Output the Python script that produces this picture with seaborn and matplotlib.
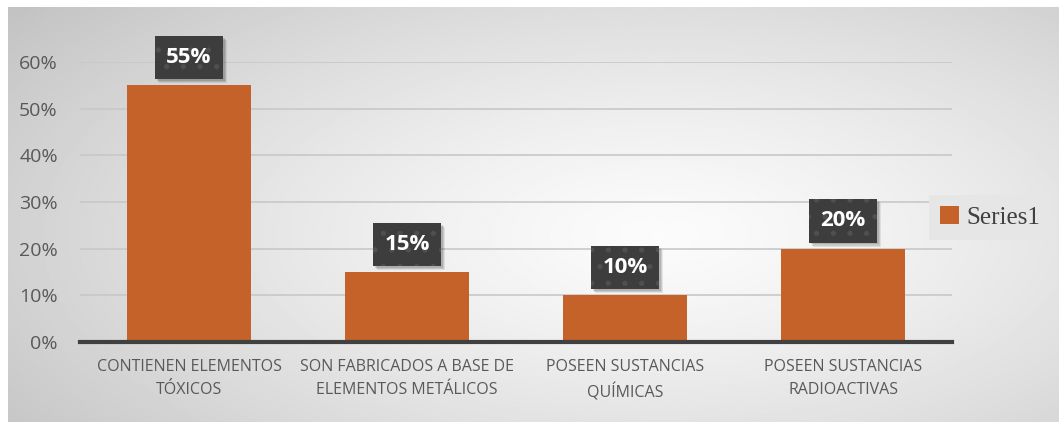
import numpy as np
import matplotlib
matplotlib.use("Agg")
import matplotlib.pyplot as plt
import matplotlib.patheffects as pe
from matplotlib.patches import Patch
from matplotlib.ticker import PercentFormatter
import seaborn as sns

categories = [
    "CONTIENEN ELEMENTOS\nTÓXICOS",
    "SON FABRICADOS A BASE DE\nELEMENTOS METÁLICOS",
    "POSEEN SUSTANCIAS\nQUÍMICAS",
    "POSEEN SUSTANCIAS\nRADIOACTIVAS",
]
values = [0.55, 0.15, 0.10, 0.20]
y_ticks = [0.0, 0.1, 0.2, 0.3, 0.4, 0.5, 0.6]
series_name = "Series1"

BAR = "#C4622A"
TXT = "#595959"


class SoftShadow(pe.AbstractPathEffect):
    """Plain (unhatched) offset shadow drawn beneath a patch."""

    def __init__(self, offset=(2, -2), alpha=0.15):
        super().__init__(offset)
        self._alpha = alpha

    def draw_path(self, renderer, gc, tpath, affine, rgbFace=None):
        gc0 = renderer.new_gc()
        gc0.copy_properties(gc)
        gc0.set_hatch(None)
        gc0.set_linewidth(0)
        gc0.set_foreground((0, 0, 0))
        gc0.set_alpha(self._alpha)
        renderer.draw_path(gc0, tpath, affine + self._offset_transform(renderer),
                           (0, 0, 0))
        gc0.restore()


sns.set_theme(style="white")
plt.rcParams["font.family"] = ["Open Sans", "DejaVu Sans"]
plt.rcParams["hatch.linewidth"] = 1.4

fig = plt.figure(figsize=(10.59, 4.22), dpi=100)

# radial gray backdrop of the chart panel
bg = fig.add_axes([8 / 1059, 0, 1 - 8 / 1059, 1 - 7 / 422], zorder=-10)
yy, xx = np.mgrid[0:1:300j, 0:1:600j]
r = np.sqrt(((xx - 0.62) / 0.75) ** 2 + ((yy - 0.45) / 0.85) ** 2)
shade = np.clip(0.985 - 0.21 * r ** 1.3, 0.76, 1.0)
bg.imshow(shade, cmap="gray", vmin=0, vmax=1, aspect="auto",
          extent=[0, 1, 0, 1], origin="lower")
bg.axis("off")

ax = fig.add_axes([80 / 1059, 1 - 342 / 422, (952 - 80) / 1059, (342 - 62) / 422])
ax.set_facecolor("none")

sns.barplot(x=categories, y=values, color=BAR, width=0.565, saturation=1,
            linewidth=0, ax=ax, zorder=3)

ax.set_ylim(0, 0.6)
ax.set_yticks(y_ticks)
ax.yaxis.set_major_formatter(PercentFormatter(1.0, decimals=0))
ax.grid(axis="y", color="#c8c8c8", linewidth=1.2, zorder=0)
ax.set_axisbelow(True)
for s in ["top", "right", "left"]:
    ax.spines[s].set_visible(False)
ax.spines["bottom"].set_color("#404040")
ax.spines["bottom"].set_linewidth(3)
ax.spines["bottom"].set_zorder(5)
ax.tick_params(axis="y", length=0, pad=16, labelsize=14, labelcolor=TXT)
ax.tick_params(axis="x", length=0, pad=12, labelsize=11.5, labelcolor=TXT)
for lbl in ax.get_xticklabels():
    lbl.set_linespacing(1.6)
ax.set_xlabel("")
ax.set_ylabel("")

# value callouts above each bar, with a soft drop shadow behind
for i, v in enumerate(values):
    t = ax.annotate(f"{v:.0%}", xy=(i, v), xytext=(0, 20),
                    textcoords="offset points", ha="center", va="center",
                    fontsize=16, fontweight="bold", color="white", zorder=6,
                    bbox=dict(boxstyle="square,pad=0.5", facecolor="#3d3d3d",
                              edgecolor="#4f4f4f", linewidth=0, hatch="."))
    t.get_bbox_patch().set_path_effects([
        SoftShadow(offset=(3.0, -3.0), alpha=0.08),
        SoftShadow(offset=(2.2, -2.2), alpha=0.10),
        SoftShadow(offset=(1.4, -1.4), alpha=0.12),
        pe.Normal(),
    ])

leg = fig.legend(handles=[Patch(facecolor=BAR, edgecolor="none", label=series_name)],
                 loc="center", bbox_to_anchor=(990 / 1059, 1 - 217.5 / 422),
                 frameon=True, fancybox=False, handlelength=0.75, handleheight=0.75,
                 handletextpad=0.3, borderpad=0.45,
                 prop={"family": "Liberation Serif", "size": 18})
leg.get_frame().set_facecolor("#e6e6e6")
leg.get_frame().set_edgecolor("none")
leg.get_frame().set_alpha(1)
for txt in leg.get_texts():
    txt.set_color("#404040")

fig.savefig("out.png", dpi=100, facecolor="white")
